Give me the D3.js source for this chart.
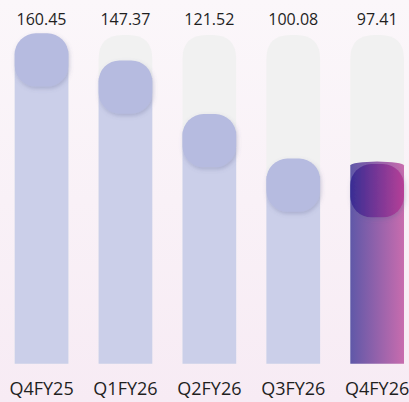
<!DOCTYPE html>
<html>
<head>
<meta charset="utf-8">
<script src="https://cdn.jsdelivr.net/npm/d3@7"></script>
<style>
  html, body { margin: 0; padding: 0; }
  body { width: 409px; height: 402px; overflow: hidden; }
</style>
</head>
<body>
<script>
// Quarterly values shown above each column
const quarters = ["Q4FY25", "Q1FY26", "Q2FY26", "Q3FY26", "Q4FY26"];
const values = [160.45, 147.37, 121.52, 100.08, 97.41];
const valueLabels = ["160.45", "147.37", "121.52", "100.08", "97.41"];

const W = 409, H = 402;
const plotBottom = 363.7, plotTop = 30.8, trackTop = 35;

const svg = d3.select("body").append("svg")
  .attr("width", W).attr("height", H);

const defs = svg.append("defs");

const bg = defs.append("linearGradient").attr("id", "bg")
  .attr("x1", 0).attr("y1", 0).attr("x2", 0).attr("y2", 1);
bg.append("stop").attr("offset", "0%").attr("stop-color", "#fbf7fa");
bg.append("stop").attr("offset", "100%").attr("stop-color", "#f7ebf4");

const hlFill = defs.append("linearGradient").attr("id", "hlFill")
  .attr("x1", 0).attr("y1", 0).attr("x2", 1).attr("y2", 0);
hlFill.append("stop").attr("offset", "0%").attr("stop-color", "#5f58a8");
hlFill.append("stop").attr("offset", "100%").attr("stop-color", "#c86cae");

const hlKnob = defs.append("linearGradient").attr("id", "hlKnob")
  .attr("x1", 0).attr("y1", 0).attr("x2", 1).attr("y2", 0);
hlKnob.append("stop").attr("offset", "0%").attr("stop-color", "#382e94");
hlKnob.append("stop").attr("offset", "100%").attr("stop-color", "#b63f97");

const shadow = defs.append("filter").attr("id", "knobShadow")
  .attr("x", "-30%").attr("y", "-30%").attr("width", "160%").attr("height", "160%");
shadow.append("feDropShadow")
  .attr("dx", 1).attr("dy", 2).attr("stdDeviation", 2)
  .attr("flood-color", "#5c6090").attr("flood-opacity", 0.3);

svg.append("rect").attr("width", W).attr("height", H).attr("fill", "url(#bg)");

const x = d3.scaleBand()
  .domain(quarters)
  .range([-0.4, 419.1])
  .paddingInner(0.36)
  .paddingOuter(0.18);

const y = d3.scaleLinear()
  .domain([0, d3.max(values)])
  .range([plotBottom, plotTop]);

const bw = x.bandwidth();
const last = quarters.length - 1;
const data = quarters.map((q, i) => ({ q, v: values[i], label: valueLabels[i], i }));

// background tracks with a rounded top
const trackPath = d => {
  const x0 = x(d.q), x1 = x0 + bw, r = 24;
  return `M${x0},${plotBottom} V${trackTop + r} Q${x0},${trackTop} ${x0 + r},${trackTop} H${x1 - r} Q${x1},${trackTop} ${x1},${trackTop + r} V${plotBottom} Z`;
};
svg.append("g").selectAll("path").data(data).join("path")
  .attr("d", trackPath)
  .attr("fill", "#f1f1f1");

// value columns; the highlighted one gets a slightly domed top,
// the others start under their knob
const barPath = d => {
  const x0 = x(d.q), x1 = x0 + bw, t = y(d.v);
  if (d.i === last) {
    const ry = 4;
    return `M${x0},${plotBottom} V${t + ry} A${bw / 2},${ry} 0 0 1 ${x1},${t + ry} V${plotBottom} Z`;
  }
  return `M${x0},${plotBottom} V${t + 20} H${x1} V${plotBottom} Z`;
};
svg.append("g").selectAll("path").data(data).join("path")
  .attr("d", barPath)
  .attr("fill", d => d.i === last ? "url(#hlFill)" : "#cbcfe9");

// rounded knob sitting on top of each column
svg.append("g").selectAll("rect").data(data).join("rect")
  .attr("x", d => x(d.q))
  .attr("y", d => y(d.v) + 2.5)
  .attr("width", bw)
  .attr("height", bw - 0.5)
  .attr("rx", 21).attr("ry", 21)
  .attr("fill", d => d.i === last ? "url(#hlKnob)" : "#b6bbe0")
  .attr("filter", "url(#knobShadow)");

// value labels
svg.append("g").selectAll("text").data(data).join("text")
  .attr("x", d => x(d.q) + bw / 2)
  .attr("y", 25)
  .attr("text-anchor", "middle")
  .attr("font-family", "'Open Sans', sans-serif")
  .attr("font-size", 16)
  .attr("fill", "#1f1f1f")
  .text(d => d.label);

// category axis
const xAxis = svg.append("g")
  .attr("transform", `translate(0,${plotBottom})`)
  .call(d3.axisBottom(x).tickSize(0).tickPadding(0));
xAxis.select(".domain").remove();
xAxis.selectAll("text")
  .attr("y", 31.3)
  .attr("dy", 0)
  .attr("font-family", "'Open Sans', sans-serif")
  .attr("font-size", 18)
  .attr("fill", "#1f1f1f");
</script>
</body>
</html>
